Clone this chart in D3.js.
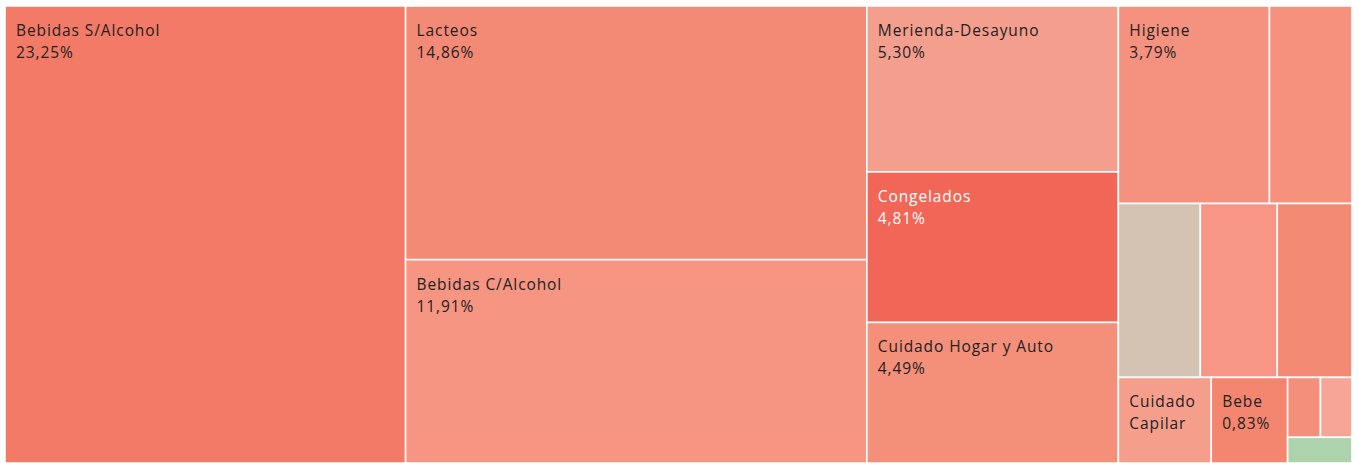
<!DOCTYPE html>
<html>
<head>
<meta charset="utf-8">
<script src="https://cdn.jsdelivr.net/npm/d3@7"></script>
<style>
  html, body { margin: 0; padding: 0; background: #fff; }
  svg { display: block; }
  .cell-label { font-family: "Open Sans", sans-serif; font-size: 15.5px; letter-spacing: 0.9px; }
</style>
</head>
<body>
<svg id="chart" width="1359" height="463"></svg>
<script>
(function () {
  "use strict";

  // category names (empty where the picture shows no label)
  const categories = [
    "Bebidas S/Alcohol", "Lacteos", "Bebidas C/Alcohol", "Merienda-Desayuno",
    "Congelados", "Cuidado Hogar y Auto", "Higiene", "",
    "", "", "", "Cuidado Capilar",
    "Bebe", "", "", ""
  ];
  // share of sales, %
  const shares = [
    23.25, 14.86, 11.91, 5.30,
    4.81, 4.49, 3.79, 2.07,
    1.81, 1.70, 1.65, 1.01,
    0.83, 0.25, 0.24, 0.21
  ];
  const cellColors = [
    "#f27a66", "#f38a76", "#f59582", "#f49e8e",
    "#f26657", "#f48f7a", "#f4927f", "#f5917d",
    "#d4c3b2", "#f79686", "#f38a73", "#f59e8c",
    "#f4866f", "#f48f7b", "#f7a597", "#add3ac"
  ];

  const svg = d3.select("#chart");
  const left = 5, top = 6, width = 1347, height = 457;
  const pad = 11, lineH = 22, firstBase = 30;

  const fmt = d3.formatLocale({ decimal: ",", thousands: ".", grouping: [3], currency: ["", "€"] }).format(".2f");

  const rows = categories.map((name, i) => ({ name, value: shares[i], color: cellColors[i] }));

  const root = d3.hierarchy({ children: rows })
    .sum((d) => d.value || 0)
    .sort((a, b) => b.value - a.value);

  d3.treemap()
    .tile(d3.treemapSquarify)
    .size([width, height])
    .round(false)(root);

  const g = svg.append("g").attr("transform", `translate(${left},${top})`);

  const cell = g.selectAll("g.cell")
    .data(root.leaves())
    .join("g")
    .attr("class", "cell")
    .attr("transform", (d) => `translate(${d.x0},${d.y0})`);

  cell.append("rect")
    .attr("width", (d) => d.x1 - d.x0)
    .attr("height", (d) => d.y1 - d.y0)
    .attr("fill", (d) => d.data.color)
    .attr("stroke", "#fff")
    .attr("stroke-width", 1.6);

  // text measuring helper
  const probe = svg.append("text").attr("class", "cell-label");
  function textW(s) {
    probe.text(s);
    return probe.node().getComputedTextLength();
  }

  function wrap(name, maxW) {
    const words = name.split(" ");
    const lines = [];
    let cur = "";
    for (const w of words) {
      const test = cur ? cur + " " + w : w;
      if (cur && textW(test) > maxW) { lines.push(cur); cur = w; }
      else cur = test;
    }
    if (cur) lines.push(cur);
    return lines;
  }

  cell.each(function (d) {
    const name = d.data.name;
    if (!name) return;
    const w = d.x1 - d.x0, h = d.y1 - d.y0;
    const maxW = w - 2 * pad;
    if (d3.max(name.split(" "), textW) > maxW) return;
    const lines = wrap(name, maxW);
    const pct = fmt(d.data.value) + "%";
    if ((lines.length + 1) * lineH + 24 <= h && textW(pct) <= maxW) lines.push(pct);
    const fill = d.data.name === "Congelados" ? "#ffffff" : "#222222";
    d3.select(this).selectAll("text")
      .data(lines)
      .join("text")
      .attr("class", "cell-label")
      .attr("x", pad)
      .attr("y", (t, i) => firstBase + i * lineH)
      .attr("fill", fill)
      .text((t) => t);
  });

  probe.remove();
})();
</script>
</body>
</html>
